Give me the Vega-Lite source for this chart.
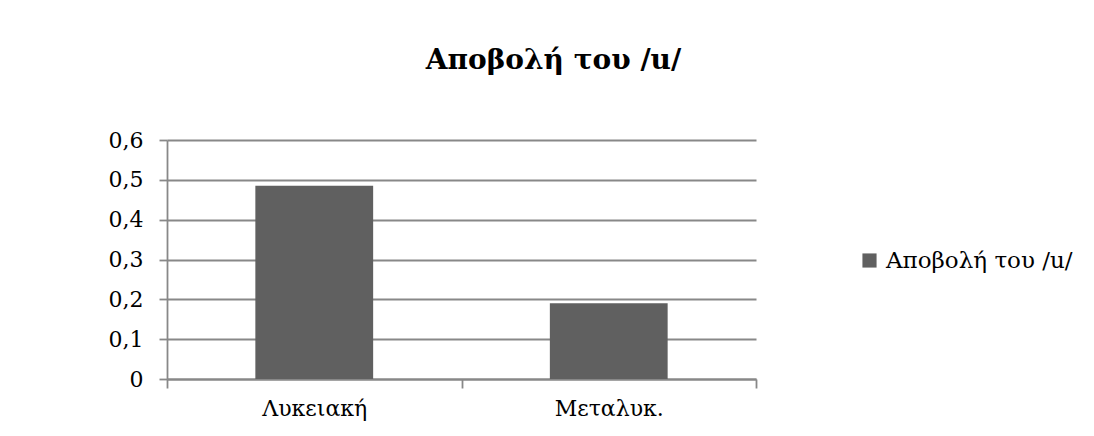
{
  "$schema": "https://vega.github.io/schema/vega-lite/v6.json",
  "autosize": "none",
  "width": 589,
  "height": 239,
  "padding": {"left": 167, "top": 140, "right": 338, "bottom": 57},
  "background": "white",
  "title": {
    "text": "Αποβολή του /u/",
    "font": "DejaVu Serif",
    "fontSize": 28,
    "fontWeight": "bold",
    "color": "black",
    "anchor": "middle",
    "baseline": "alphabetic",
    "frame": "group",
    "dx": 92,
    "offset": 0,
    "dy": -32
  },
  "data": {
    "values": [
      {"group": "Λυκειακή", "value": 0.485, "series": "Αποβολή του /u/"},
      {"group": "Μεταλυκ.", "value": 0.19, "series": "Αποβολή του /u/"}
    ]
  },
  "mark": {"type": "bar", "width": {"band": 0.4}},
  "encoding": {
    "x": {
      "field": "group",
      "type": "nominal",
      "sort": null,
      "title": null,
      "scale": {"paddingInner": 0, "paddingOuter": 0},
      "axis": {
        "labelAngle": 0,
        "tickBand": "extent",
        "tickSize": 9,
        "labelPadding": 10,
        "grid": false
      }
    },
    "y": {
      "field": "value",
      "type": "quantitative",
      "title": null,
      "scale": {"domain": [0, 0.6], "nice": false},
      "axis": {
        "values": [0, 0.1, 0.2, 0.3, 0.4, 0.5, 0.6],
        "labelExpr": "datum.value == 0 ? '0' : replace(format(datum.value, '.1f'), '.', ',')",
        "tickSize": 8,
        "labelPadding": 16,
        "grid": true
      }
    },
    "color": {
      "field": "series",
      "type": "nominal",
      "title": null,
      "scale": {"range": ["#606060"]},
      "legend": {
        "orient": "none",
        "legendX": 691,
        "legendY": 109,
        "symbolType": "square",
        "symbolSize": 200,
        "symbolStrokeWidth": 0,
        "labelFont": "DejaVu Serif",
        "labelFontSize": 23,
        "labelColor": "black",
        "labelOffset": 5,
        "labelLimit": 400,
        "padding": 0
      }
    }
  },
  "config": {
    "view": {"stroke": null},
    "axis": {
      "labelFont": "DejaVu Serif",
      "labelFontSize": 22,
      "labelColor": "black",
      "domainColor": "#888888",
      "domainWidth": 1.8,
      "tickColor": "#888888",
      "tickWidth": 1.8,
      "gridColor": "#888888",
      "gridWidth": 1.8,
      "gridOpacity": 1
    }
  }
}
